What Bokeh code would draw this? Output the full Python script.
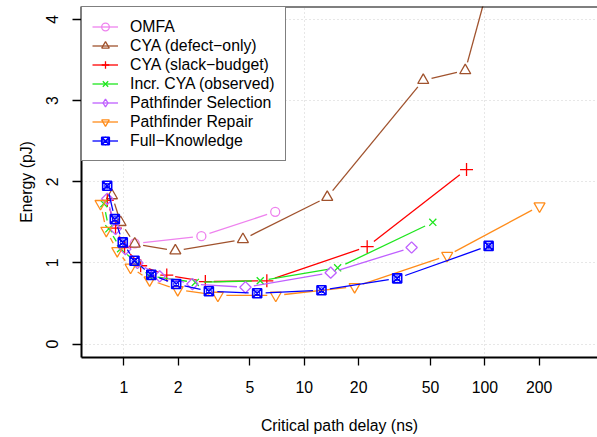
import numpy as np
from bokeh.plotting import figure
from bokeh.models import (Range1d, FixedTicker, Span, Legend, LegendItem, ColumnDataSource)
from bokeh.embed import file_html
from bokeh.resources import INLINE

# ---------------- data ----------------
series_names = ["OMFA", "CYA (defect\u2212only)", "CYA (slack\u2212budget)", "Incr. CYA (observed)",
                "Pathfinder Selection", "Pathfinder Repair", "Full\u2212Knowledge"]

omfa_x = [1.15, 2.69, 6.9]
omfa_y = [1.24, 1.33, 1.63]

defect_x = [0.86, 0.96, 1.15, 1.93, 4.57, 13.4, 45.6, 77.9, 120]
defect_y = [1.83, 1.50, 1.235, 1.15, 1.29, 1.81, 3.25, 3.37, 4.9]

slack_x = [0.81, 0.90, 1.01, 1.24, 1.73, 2.83, 6.2, 22.3, 79.2]
slack_y = [1.77, 1.43, 1.19, 0.965, 0.85, 0.77, 0.78, 1.20, 2.15]

incr_x = [0.775, 0.826, 0.96, 1.19, 1.38, 2.49, 5.7, 15.3, 51.5]
incr_y = [1.73, 1.42, 1.175, 0.99, 0.84, 0.76, 0.78, 0.94, 1.50]

sel_x = [0.81, 0.90, 1.02, 1.19, 1.58, 2.40, 4.72, 14.0, 39.3]
sel_y = [1.79, 1.42, 1.17, 1.00, 0.835, 0.74, 0.70, 0.88, 1.19]

rep_x = [0.743, 0.80, 0.92, 1.09, 1.39, 1.99, 3.32, 6.95, 19.0, 61.9, 201]
rep_y = [1.73, 1.40, 1.15, 0.945, 0.79, 0.67, 0.60, 0.60, 0.706, 1.09, 1.70]

full_x = [0.809, 0.892, 0.987, 1.146, 1.42, 1.95, 2.96, 5.48, 12.45, 32.7, 105]
full_y = [1.95, 1.54, 1.253, 1.027, 0.853, 0.74, 0.652, 0.627, 0.663, 0.81, 1.21]

x_ticks = [1, 2, 5, 10, 20, 50, 100, 200]
x_tick_labels = ["1", "2", "5", "10", "20", "50", "100", "200"]
y_ticks = [0, 1, 2, 3, 4]
x_grid = [1, 10, 100]

# ---------------- styling ----------------
colors = ["violet", "sienna", "red", "#1EE61E", "#BF5FFF", "#FF8C1A", "blue"]
markers = ["circle", "triangle", "cross", "x", "square", "inverted_triangle", "square_x"]
sizes = [9, 11, 13, 10, 8, 11, 9]
angles = [0, 0, 0, 0, np.pi / 4, 0, 0]

FONT = "Liberation Sans"
FS = "15.8px"

W, H = 597, 437
ML, MR, MT, MB = 81, 0, 6, 80
FW, FH = W - ML - MR, H - MT - MB
XLO, XHI = 0.583, 421.0
YLO, YHI = -0.165, 4.159

p = figure(width=W, height=H, x_axis_type="log",
           x_range=Range1d(XLO, XHI), y_range=Range1d(YLO, YHI),
           output_backend="svg", toolbar_location=None,
           min_border_left=ML, min_border_right=MR, min_border_top=MT, min_border_bottom=MB)
p.outline_line_color = None
p.background_fill_color = "white"
p.border_fill_color = "white"

# grid
p.xgrid.ticker = FixedTicker(ticks=x_grid)
p.ygrid.ticker = FixedTicker(ticks=y_ticks)
for g in (p.xgrid, p.ygrid):
    g.grid_line_color = "#cfcfcf"
    g.grid_line_dash = "1 3"
    g.grid_line_width = 1

# axes
p.xaxis.ticker = FixedTicker(ticks=x_ticks)
p.xaxis.major_label_overrides = {float(t): l for t, l in zip(x_ticks, x_tick_labels)}
p.yaxis.ticker = FixedTicker(ticks=y_ticks)
p.yaxis.major_label_orientation = "vertical"
p.xaxis.axis_label = "Critical path delay (ns)"
p.yaxis.axis_label = "Energy (pJ)"
for ax in (p.xaxis, p.yaxis):
    ax.axis_line_color = "black"
    ax.axis_line_width = 2
    ax.major_tick_line_color = "black"
    ax.major_tick_line_width = 1.3
    ax.major_tick_in = 0
    ax.minor_tick_line_color = None
    ax.major_label_text_font = FONT
    ax.major_label_text_font_size = FS
    ax.major_label_text_color = "black"
    ax.axis_label_text_font = FONT
    ax.axis_label_text_font_size = FS
    ax.axis_label_text_font_style = "normal"
    ax.axis_label_text_color = "black"
p.xaxis.major_tick_out = 8
p.yaxis.major_tick_out = 9
p.xaxis.major_label_standoff = 15
p.yaxis.major_label_standoff = 14
p.xaxis.axis_label_standoff = 21
p.yaxis.axis_label_standoff = 9

p.add_layout(Span(location=YHI, dimension="width", line_color="black", line_width=2))

# gapped segments like R type="b"
SX = FW / (np.log10(XHI) - np.log10(XLO))
SY = FH / (YHI - YLO)
GAP = 8.5


def gapped(xs, ys):
    X = (np.log10(np.asarray(xs, float)) - np.log10(XLO)) * SX
    Y = (np.asarray(ys, float) - YLO) * SY
    x0, y0, x1, y1 = [], [], [], []
    for i in range(len(X) - 1):
        dx, dy = X[i + 1] - X[i], Y[i + 1] - Y[i]
        d = np.hypot(dx, dy)
        if d <= 2 * GAP:
            continue
        t = GAP / d
        ax_, ay_ = X[i] + t * dx, Y[i] + t * dy
        bx_, by_ = X[i + 1] - t * dx, Y[i + 1] - t * dy
        x0.append(10 ** (ax_ / SX + np.log10(XLO)))
        y0.append(ay_ / SY + YLO)
        x1.append(10 ** (bx_ / SX + np.log10(XLO)))
        y1.append(by_ / SY + YLO)
    return dict(x0=x0, y0=y0, x1=x1, y1=y1)


all_x = [omfa_x, defect_x, slack_x, incr_x, sel_x, rep_x, full_x]
all_y = [omfa_y, defect_y, slack_y, incr_y, sel_y, rep_y, full_y]

items = []
for name, xs, ys, c, m, s, a in zip(series_names, all_x, all_y, colors, markers, sizes, angles):
    seg = p.segment(x0="x0", y0="y0", x1="x1", y1="y1", source=ColumnDataSource(gapped(xs, ys)),
                    line_color=c, line_width=1.3)
    lw = 1.6 if m == "square_x" else 1.3
    sc = p.scatter(xs, ys, marker=m, size=s, angle=a, line_color=c, fill_color=None,
                   line_width=lw)
    rends = [seg]
    if a != 0:
        # legend-only diamond: a NaN placeholder point draws nothing in the plot area
        dummy = p.scatter([float("nan")], [float("nan")], marker="diamond", size=13,
                          line_color=c, fill_color=None, line_width=lw)
        rends.append(dummy)
    else:
        rends.append(sc)
    if m == "square_x":
        circ = p.scatter(xs, ys, marker="circle", size=5, line_color=c, fill_color=None, line_width=1)
        rends.append(circ)
    items.append(LegendItem(label=name, renderers=rends))

legend = Legend(items=items, location="top_left", margin=0, padding=10, spacing=0,
                glyph_width=26, glyph_height=19, label_height=19, label_standoff=12,
                label_text_font=FONT, label_text_font_size=FS, label_text_color="black",
                border_line_color="black", border_line_width=1.5,
                background_fill_color="white", background_fill_alpha=1.0)
p.add_layout(legend)

open("out.html", "w").write(file_html(p, INLINE))
